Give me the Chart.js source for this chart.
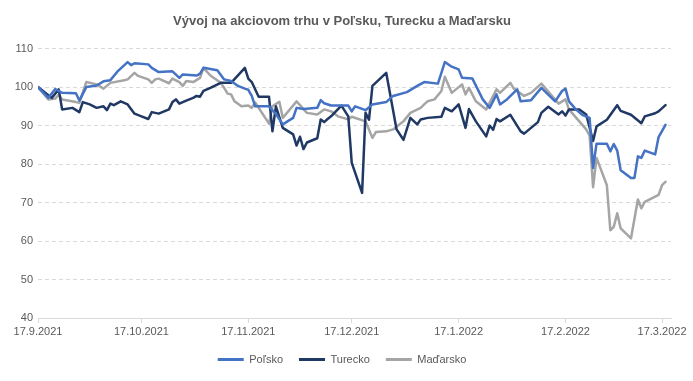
<!DOCTYPE html>
<html lang="sk">
<head>
  <meta charset="UTF-8" />
  <title>Vývoj na akciovom trhu</title>
  <script src="https://cdn.jsdelivr.net/npm/chart.js"></script>
  <style>
    html, body { margin: 0; padding: 0; background: #fff; }
    #wrap { width: 693px; height: 381px; }
  </style>
</head>
<body>
  <div id="wrap"><canvas id="graf" width="693" height="381"></canvas></div>
  <script>
    // dni od 17.9.2021
    const tickDays = [0, 30, 61, 91, 122, 153, 181];
    const tickLabels = ['17.9.2021', '17.10.2021', '17.11.2021', '17.12.2021', '17.1.2022', '17.2.2022', '17.3.2022'];

    const polskoDays = [0, 3, 5, 7, 11, 12, 14, 17, 19, 21, 23, 26, 27, 28, 32, 33, 35, 39, 41, 42, 46, 47, 48, 52, 54, 56, 58, 60, 61, 62, 63, 67, 69, 71, 72, 74, 75, 77, 81, 82, 83, 85, 90, 91, 92, 95, 97, 101, 103, 107, 110, 112, 116, 118, 120, 122, 123, 126, 129, 131, 133, 134, 136, 139, 140, 143, 146, 150, 152, 153, 154, 156, 158, 160, 161, 162, 165, 166, 167, 168, 169, 172, 173, 174, 175, 176, 179, 180, 182];
    const polskoValues = [100, 97.2, 99.5, 98.5, 98.4, 96.5, 100, 100.4, 101.5, 101.8, 104, 106.5, 105.7, 106.2, 105.9, 105, 103.9, 104.1, 102.4, 103.3, 103, 103.5, 105, 104.4, 102, 101.6, 100.3, 99.6, 99.3, 97.7, 95, 95, 93, 90.3, 90.9, 92, 94.6, 94.3, 94.6, 96.6, 95.8, 95.2, 95.2, 93.7, 95, 94, 95.5, 96.1, 97.7, 98.7, 100.3, 101.3, 100.9, 106.5, 105.3, 104.6, 102.4, 102.2, 96.8, 94.6, 98.1, 95.5, 96.8, 99.4, 96.3, 96.6, 99.8, 96.3, 99, 99.6, 96.3, 94.2, 92.7, 92, 79, 85.3, 85.3, 83.3, 85.2, 83.5, 78.4, 76.4, 76.4, 82, 81.6, 83.5, 82.5, 87, 90.2];

    const tureckoDays = [0, 4, 6, 7, 10, 12, 13, 15, 17, 19, 20, 21, 22, 24, 26, 28, 30, 32, 33, 35, 38, 39, 40, 41, 43, 45, 46, 47, 48, 50, 53, 56, 60, 61, 62, 64, 67, 68, 69, 71, 74, 75, 76, 77, 78, 81, 82, 83, 84, 85, 88, 90, 91, 94, 95, 96, 97, 101, 104, 106, 108, 110, 111, 113, 117, 118, 120, 122, 124, 125, 127, 130, 131, 132, 133, 134, 137, 140, 141, 145, 146, 148, 151, 152, 153, 154, 157, 159, 161, 162, 165, 168, 169, 172, 175, 176, 179, 180, 182];
    const tureckoValues = [100, 97.2, 99.4, 94.2, 94.6, 93.5, 96.1, 95.5, 94.6, 95, 94, 95.7, 95.3, 96.3, 95.5, 93.1, 92.4, 91.7, 93.5, 93.1, 94.2, 96.1, 96.8, 95.7, 96.5, 97.2, 97.7, 97.5, 99, 99.8, 101.1, 101.1, 105, 102.2, 101.3, 97.5, 97.5, 88.5, 95, 89.4, 87.7, 84.8, 87.1, 83.9, 85.6, 86.7, 91.6, 90.9, 91.7, 92.4, 95.2, 92.4, 80.3, 72.5, 93.3, 91.5, 100.3, 103.7, 89, 86.3, 92, 90.3, 91.6, 92, 92.3, 94.6, 93.7, 95.5, 89.4, 94.3, 91.1, 87.2, 90, 88.9, 91.7, 91.1, 92.8, 88.5, 87.9, 90.9, 93.3, 94.9, 92.9, 93.7, 92.6, 94.2, 94.2, 92.9, 86, 89.8, 91.5, 95.3, 93.8, 92.8, 90.6, 92.4, 93.2, 93.7, 95.3];

    const madarskoDays = [0, 3, 5, 6, 7, 11, 12, 14, 17, 19, 21, 25, 26, 28, 29, 32, 33, 34, 35, 38, 39, 41, 42, 43, 45, 47, 48, 50, 53, 54, 55, 56, 57, 59, 61, 62, 63, 67, 68, 70, 71, 75, 78, 81, 83, 85, 87, 90, 91, 95, 97, 98, 101, 103, 106, 108, 111, 112, 113, 115, 117, 118, 120, 123, 124, 125, 127, 130, 133, 134, 137, 138, 141, 143, 146, 151, 153, 154, 157, 159, 160, 161, 162, 165, 166, 167, 168, 169, 172, 174, 175, 176, 180, 181, 182];
    const madarskoValues = [100, 96.8, 97, 98, 96.8, 96.1, 95.9, 101.3, 100.7, 99.6, 101.1, 101.8, 102, 103.7, 102.9, 102, 101.1, 102, 102.2, 101, 102.2, 101.3, 100.3, 101.6, 101.3, 102.4, 105, 103, 101.1, 99.8, 98.3, 98.1, 96.3, 95, 95.2, 94.6, 96, 90.5, 95, 96.2, 92, 96.3, 93.3, 92.9, 94.2, 93.7, 92.4, 91.6, 92.3, 91.1, 86.8, 88.3, 88.5, 89, 91.1, 93.3, 94.6, 95.5, 96.3, 96.8, 99, 102.7, 98.5, 100.7, 98.1, 99.8, 96.3, 94.2, 99.4, 98.5, 101.1, 99.6, 97.7, 98.5, 100.9, 95.7, 96.8, 94.2, 91.1, 89, 87.4, 74, 81.6, 74.5, 62.8, 63.7, 67.2, 63.3, 60.7, 70.8, 68.5, 70.2, 72, 74.5, 75.4];

    const body = (days, vals) => days.map((d, i) => ({ x: d, y: vals[i] }));

    const fontTxt = "'Liberation Sans', Arial, sans-serif";
    const sivaText = '#595959';

    const ctx = document.getElementById('graf').getContext('2d');
    const chart = new Chart(ctx, {
      type: 'line',
      data: {
        datasets: [
          { label: 'Poľsko', data: body(polskoDays, polskoValues), borderColor: '#4472C4', backgroundColor: '#4472C4', borderWidth: 2.5 },
          { label: 'Turecko', data: body(tureckoDays, tureckoValues), borderColor: '#203864', backgroundColor: '#203864', borderWidth: 2.5 },
          { label: 'Maďarsko', data: body(madarskoDays, madarskoValues), borderColor: '#A5A5A5', backgroundColor: '#A5A5A5', borderWidth: 2.5 }
        ]
      },
      options: {
        responsive: false,
        animation: false,
        devicePixelRatio: 1,
        elements: {
          point: { radius: 0 },
          line: { tension: 0, borderJoinStyle: 'round', borderCapStyle: 'round' }
        },
        layout: { padding: { left: 13, right: 22, top: 8, bottom: 6 } },
        scales: {
          x: {
            type: 'linear',
            min: 0,
            max: 183.6,
            afterBuildTicks: (s) => { s.ticks = tickDays.map(v => ({ value: v })); },
            afterFit: (s) => { s.height = 20; },
            ticks: {
              autoSkip: false,
              maxRotation: 0,
              padding: 2,
              color: sivaText,
              font: { family: fontTxt, size: 11 },
              callback: (v) => tickLabels[tickDays.indexOf(v)]
            },
            grid: { drawOnChartArea: false, drawTicks: true, tickLength: 5, color: '#D9D9D9' },
            border: { display: true, color: '#D9D9D9' }
          },
          y: {
            min: 40,
            max: 110,
            afterFit: (s) => { s.width = 25; },
            ticks: {
              stepSize: 10,
              padding: 5,
              color: sivaText,
              font: { family: fontTxt, size: 11 }
            },
            grid: { color: '#D9D9D9', tickLength: 0, drawTicks: false },
            border: { display: false, dash: [4, 3] }
          }
        },
        plugins: {
          title: {
            display: true,
            text: 'Vývoj na akciovom trhu v Poľsku, Turecku a Maďarsku',
            color: sivaText,
            font: { family: fontTxt, size: 13, weight: 'bold' },
            padding: { top: 6, bottom: 19 }
          },
          legend: {
            position: 'bottom',
            labels: {
              usePointStyle: true,
              pointStyle: 'line',
              pointStyleWidth: 26,
              padding: 16,
              color: sivaText,
              font: { family: fontTxt, size: 11 },
              generateLabels: (c) => Chart.defaults.plugins.legend.labels.generateLabels(c).map(l => ({ ...l, lineWidth: 3 }))
            }
          },
          tooltip: { enabled: false }
        }
      }
    });
  </script>
</body>
</html>
